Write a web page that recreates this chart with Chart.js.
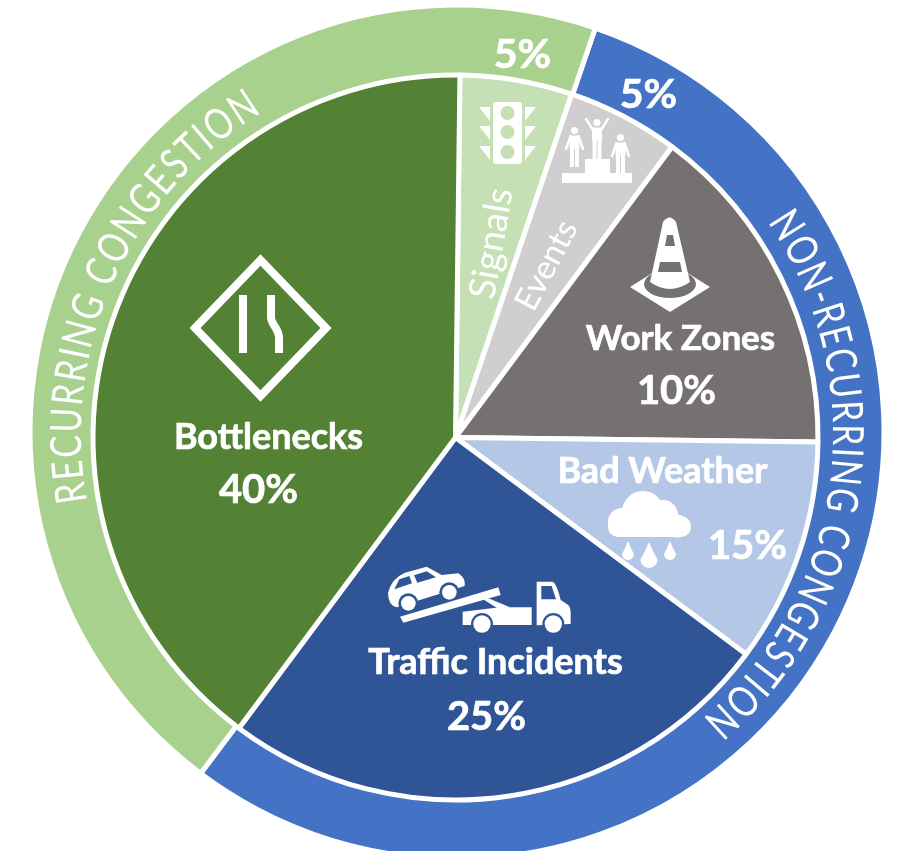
<!DOCTYPE html>
<html>
<head>
<meta charset="utf-8">
<title>Causes of congestion</title>
<script src="https://cdn.jsdelivr.net/npm/chart.js@4/dist/chart.umd.min.js"></script>
<style>
    html, body { margin: 0; padding: 0; background: #fff; overflow: hidden; width: 899px; height: 851px; }
    canvas { display: block; position: absolute; left: 0; top: 0; }
</style>
</head>
<body>
<canvas id="ring" width="914" height="864"></canvas>
<canvas id="pie" width="899" height="851"></canvas>
<script>
// Inner pie. Shares are the drawn wedge sizes; the printed
// percentages for Work Zones and Bad Weather do not match their wedges in the original.
const sliceNames = ['Signals', 'Events', 'Work Zones', 'Bad Weather', 'Traffic Incidents', 'Bottlenecks'];
const sliceShares = [5, 5, 15, 10, 25, 40];
const sliceLabels = ['5%', '5%', '10%', '15%', '25%', '40%'];
const sliceColors = ['#C5E0B4', '#D0CECE', '#767171', '#B4C7E7', '#2F5597', '#548235'];

// Outer ring, its outer edge sits a little off the pie's centre so it gets its own canvas
const ringNames = ['NON-RECURRING CONGESTION', 'RECURRING CONGESTION'];
const ringShares = [55, 45];
const ringColors = ['#4472C4', '#A9D18E'];

const FONT = 'Lato, "Open Sans", sans-serif';

function text(ctx, str, x, y, font, angle, heavy) {
    ctx.save();
    ctx.translate(x, y);
    if (angle) ctx.rotate(angle * Math.PI / 180);
    ctx.font = font;
    ctx.textAlign = 'center';
    ctx.textBaseline = 'middle';
    ctx.fillStyle = '#fff';
    ctx.fillText(str, 0, 0);
    if (heavy) {
        ctx.strokeStyle = '#fff';
        ctx.lineWidth = heavy;
        ctx.strokeText(str, 0, 0);
    }
    ctx.restore();
}

// letters along a circle, clockwise, tops pointing outward, squeezed to look like a narrow face
function curvedText(ctx, str, cx, cy, r, fromDeg, toDeg, font, squeeze) {
    ctx.save();
    ctx.font = font;
    ctx.fillStyle = '#fff';
    ctx.textAlign = 'center';
    ctx.textBaseline = 'alphabetic';
    const chars = [...str];
    const widths = chars.map(c => ctx.measureText(c).width * squeeze);
    const total = widths.reduce((a, b) => a + b, 0);
    const arc = (toDeg - fromDeg) * Math.PI / 180 * r;
    const gap = (arc - total) / (chars.length - 1);
    let pos = 0;
    chars.forEach((c, i) => {
        const a = fromDeg * Math.PI / 180 + (pos + widths[i] / 2) / r;
        ctx.save();
        ctx.translate(cx + r * Math.sin(a), cy - r * Math.cos(a));
        ctx.rotate(a);
        ctx.scale(squeeze, 1);
        ctx.fillText(c, 0, 0);
        ctx.restore();
        pos += widths[i] + gap;
    });
    ctx.restore();
}

function poly(ctx, pts) {
    ctx.beginPath();
    pts.forEach((p, i) => i ? ctx.lineTo(p[0], p[1]) : ctx.moveTo(p[0], p[1]));
    ctx.closePath();
    ctx.fill();
}

function disc(ctx, x, y, r) {
    ctx.beginPath();
    ctx.arc(x, y, r, 0, Math.PI * 2);
    ctx.fill();
}

function drawSign(ctx) {
    ctx.strokeStyle = '#fff';
    ctx.lineWidth = 8;
    ctx.lineJoin = 'miter';
    ctx.beginPath();
    ctx.moveTo(260.5, 260); ctx.lineTo(326, 328); ctx.lineTo(260.5, 396); ctx.lineTo(195, 328);
    ctx.closePath();
    ctx.stroke();
    ctx.beginPath();
    ctx.moveTo(243, 295); ctx.lineTo(243, 353);
    ctx.moveTo(271, 295); ctx.lineTo(271, 317);
    ctx.bezierCurveTo(271, 325, 279, 328, 279, 338);
    ctx.lineTo(279, 353);
    ctx.stroke();
}

function drawSignal(ctx) {
    ctx.fillStyle = '#fff';
    ctx.beginPath();
    ctx.roundRect(493, 102, 29, 62, 3);
    ctx.fill();
    [113, 132, 152].forEach(y => {
        ctx.fillStyle = sliceColors[0];
        disc(ctx, 507.5, y, 7);
        ctx.fillStyle = '#fff';
        poly(ctx, [[479, y - 6], [490, y - 6], [490, y + 8]]);
        poly(ctx, [[536, y - 6], [525, y - 6], [525, y + 8]]);
    });
}

function drawPerson(ctx, x, top, h, armsUp) {
    const s = h / 40;
    ctx.fillStyle = '#fff';
    ctx.strokeStyle = '#fff';
    disc(ctx, x, top + 3.5 * s, 3.6 * s);
    ctx.lineCap = 'round';
    ctx.lineWidth = 2.4;
    ctx.beginPath();
    if (armsUp) {
        ctx.moveTo(x - 11, top); ctx.lineTo(x - 4, top + 11 * s);
        ctx.moveTo(x + 11, top); ctx.lineTo(x + 4, top + 11 * s);
    } else {
        ctx.moveTo(x - 4, top + 9 * s); ctx.lineTo(x - 8.5, top + 22 * s);
        ctx.moveTo(x + 4, top + 9 * s); ctx.lineTo(x + 8.5, top + 22 * s);
    }
    ctx.stroke();
    ctx.lineCap = 'butt';
    ctx.fillRect(x - 5, top + 8.5 * s, 10, 13 * s);
    ctx.fillRect(x - 4.5, top + 20 * s, 4, 20 * s);
    ctx.fillRect(x + 0.5, top + 20 * s, 4, 20 * s);
}

function drawEvents(ctx) {
    ctx.fillStyle = '#fff';
    ctx.fillRect(562, 173, 70, 10);
    ctx.fillRect(585, 159, 25, 15);
    drawPerson(ctx, 574.5, 127, 40, false);
    drawPerson(ctx, 597, 119, 40, true);
    drawPerson(ctx, 620.5, 134, 40, false);
}

function drawCone(ctx) {
    const dark = sliceColors[2];
    ctx.fillStyle = '#fff';
    poly(ctx, [[630, 287], [670, 262], [710, 287], [670, 312]]);
    ctx.fillStyle = dark;
    ctx.beginPath();
    ctx.ellipse(670, 284, 26, 14, 0, 0, Math.PI * 2);
    ctx.fill();
    ctx.fillStyle = '#fff';
    ctx.beginPath();
    ctx.moveTo(663, 222);
    ctx.quadraticCurveTo(669.5, 213, 676, 222);
    ctx.lineTo(690, 282);
    ctx.quadraticCurveTo(670, 296, 650, 282);
    ctx.closePath();
    ctx.fill();
    ctx.fillStyle = dark;
    poly(ctx, [[667, 235], [673, 235], [675, 246], [665, 246]]);
    poly(ctx, [[660, 262], [680, 262], [682, 272], [658, 272]]);
}

function drawCloud(ctx) {
    ctx.fillStyle = '#fff';
    disc(ctx, 643, 512, 21);
    disc(ctx, 663, 515, 15);
    disc(ctx, 622, 522, 14);
    disc(ctx, 677, 526, 11.5);
    ctx.beginPath();
    ctx.roundRect(608, 516, 83, 21, 10);
    ctx.fill();
    [[628, 541, 560, 6], [649, 542, 568, 8.5], [670, 541, 560, 6]].forEach(d => {
        const [x, top, bottom, r] = d;
        ctx.beginPath();
        ctx.moveTo(x, top);
        ctx.quadraticCurveTo(x + r * 0.4, top + (bottom - top) * 0.35, x + r, bottom - r);
        ctx.arc(x, bottom - r, r, 0, Math.PI);
        ctx.quadraticCurveTo(x - r * 0.4, top + (bottom - top) * 0.35, x, top);
        ctx.fill();
    });
}

function drawTruck(ctx) {
    const navy = sliceColors[4];
    ctx.save();
    ctx.translate(360, 550);
    ctx.scale(1 / 3, 1 / 3);
    ctx.fillStyle = '#fff';
    // car
    ctx.beginPath();
    ctx.moveTo(84, 128);
    ctx.quadraticCurveTo(95, 85, 135, 68);
    ctx.lineTo(200, 50);
    ctx.lineTo(245, 75);
    ctx.lineTo(295, 70);
    ctx.quadraticCurveTo(318, 85, 314, 108);
    ctx.lineTo(110, 172);
    ctx.quadraticCurveTo(84, 165, 84, 128);
    ctx.fill();
    ctx.fillStyle = navy;
    poly(ctx, [[103, 118], [118, 88], [148, 78], [156, 100]]);
    poly(ctx, [[162, 76], [200, 64], [228, 82], [172, 98]]);
    disc(ctx, 145, 160, 30);
    disc(ctx, 268, 127, 30);
    ctx.fillStyle = '#fff';
    disc(ctx, 145, 160, 22);
    disc(ctx, 268, 127, 22);
    // ramp and arm
    poly(ctx, [[120, 200], [415, 112], [422, 135], [130, 218]]);
    poly(ctx, [[365, 145], [385, 145], [450, 172], [420, 180]]);
    // bed
    poly(ctx, [[308, 185], [420, 172], [515, 172], [515, 225], [308, 225]]);
    // cab
    ctx.beginPath();
    ctx.moveTo(530, 95); ctx.lineTo(578, 95);
    ctx.quadraticCurveTo(590, 100, 602, 150);
    ctx.lineTo(625, 165); ctx.quadraticCurveTo(632, 172, 632, 190);
    ctx.lineTo(632, 222); ctx.lineTo(530, 226);
    ctx.closePath();
    ctx.fill();
    ctx.fillStyle = navy;
    poly(ctx, [[544, 108], [575, 108], [588, 148], [544, 148]]);
    disc(ctx, 366, 222, 33);
    disc(ctx, 580, 222, 33);
    ctx.fillStyle = '#fff';
    disc(ctx, 366, 222, 26);
    disc(ctx, 580, 222, 26);
    ctx.restore();
}

const overlays = {
    id: 'overlays',
    afterDatasetsDraw(chart) {
        const ctx = chart.ctx;
        const arc = chart.getDatasetMeta(0).data[0];
        const cx = arc.x, cy = arc.y;
        const at = (str, dx, dy, size, angle) => text(ctx, str, cx + dx, cy + dy, `bold ${size}px ${FONT}`, angle, 0.7);
        const thin = (str, dx, dy, size, angle) => text(ctx, str, cx + dx, cy + dy, `${size}px ${FONT}`, angle, 0);

        drawSign(ctx);
        drawSignal(ctx);
        drawEvents(ctx);
        drawCone(ctx);
        drawCloud(ctx);
        drawTruck(ctx);

        at(sliceNames[5], -187, 0, 36);
        at(sliceLabels[5], -197, 53, 40);
        at(sliceNames[4], 40, 225, 36);
        at(sliceLabels[4], 31, 280, 40);
        at(sliceNames[2], 225, -99, 35);
        at(sliceLabels[2], 221, -46, 40);
        at(sliceNames[3], 207, 34, 36);
        at(sliceLabels[3], 292, 109, 40);
        thin(sliceNames[0], 36, -194, 37, -80.3);
        thin(sliceNames[1], 91, -172, 33, -62.3);

        at(sliceLabels[0], 67, -383, 41);
        at(sliceLabels[1], 193, -343, 41);

        curvedText(ctx, ringNames[0], cx + 1.5, cy - 3.5, 376, 55.7, 139.3, `400 43px ${FONT}`, 0.78);
        curvedText(ctx, ringNames[1], cx + 1.5, cy - 3.5, 376, 259.7, 328.7, `400 43px ${FONT}`, 0.78);
    }
};

new Chart(document.getElementById('ring'), {
    type: 'doughnut',
    data: {
        labels: ringNames,
        datasets: [{
            label: 'Type',
            data: ringShares,
            backgroundColor: ringColors,
            borderColor: '#fff',
            borderWidth: 5,
            rotation: 18.9
        }]
    },
    options: {
        responsive: false,
        animation: false,
        devicePixelRatio: 1,
        cutout: 0,
        layout: { padding: { top: 2.5, bottom: 2.5 } },
        plugins: {
            legend: { display: false },
            tooltip: { enabled: false }
        }
    }
});

new Chart(document.getElementById('pie'), {
    type: 'pie',
    data: {
        labels: sliceNames,
        datasets: [{
            label: 'Cause',
            data: sliceShares,
            backgroundColor: sliceColors,
            borderColor: '#fff',
            borderWidth: 5,
            rotation: 0.7
        }]
    },
    options: {
        responsive: false,
        animation: false,
        devicePixelRatio: 1,
        layout: { padding: { left: 90.5, right: 78.5, top: 72.5, bottom: 48.5 } },
        plugins: {
            legend: { display: false },
            tooltip: { enabled: false }
        }
    },
    plugins: [overlays]
});
</script>
</body>
</html>
